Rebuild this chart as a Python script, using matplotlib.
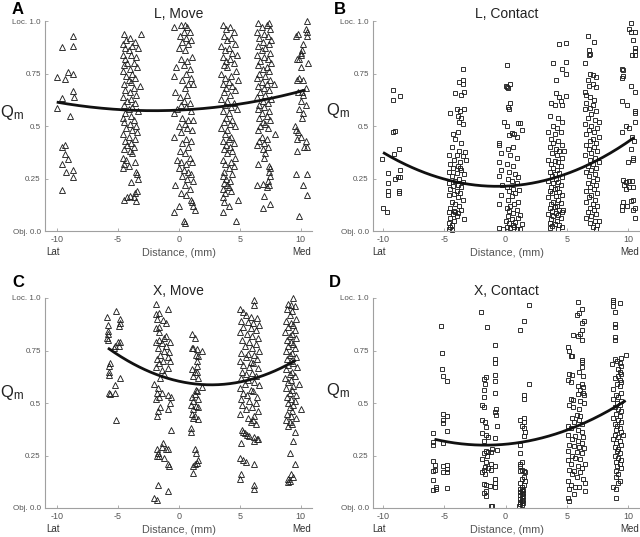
import numpy as np
import matplotlib
matplotlib.use("Agg")
import matplotlib.pyplot as plt

plt.rcParams['font.family'] = ['Liberation Sans', 'DejaVu Sans']
plt.rcParams['axes.unicode_minus'] = False

# ---------------- data ----------------
titles = ["L, Move", "L, Contact", "X, Move", "X, Contact"]
letters = ["A", "B", "C", "D"]
x_ticks = [-10, -5, 0, 5, 10]
x_tick_labels = ["-10", "-5", "0", "5", "10"]
y_ticks = [0.0, 0.25, 0.5, 0.75, 1.0]
y_tick_labels = ["Obj. 0.0", "0.25", "0.5", "0.75", "Loc. 1.0"]

A_pts = [
 (-10.0,0.735),(-9.6,0.876),(-8.7,0.93),(-8.7,0.88),(-9.1,0.757),(-9.3,0.726),(-8.7,0.75),(-9.6,0.634),(-10,0.588),
 (-8.7,0.667),(-8.6,0.64),(-8.9,0.547),(-9.6,0.40),(-9.3,0.41),(-9.3,0.366),(-9.1,0.345),(-9.6,0.32),(-9.2,0.28),
 (-8.7,0.29),(-8.7,0.258),(-9.6,0.195),
 (-4.5,0.94),(-3.1,0.94),(-4.3,0.91),(-4.0,0.92),(-3.6,0.90),(-4.6,0.89),(-3.8,0.88),(-4.4,0.87),(-3.3,0.87),(-4.1,0.86),
 (-4.6,0.84),(-3.9,0.84),(-3.5,0.83),(-4.4,0.82),(-4.2,0.80),(-3.7,0.80),(-4.5,0.79),(-3.4,0.78),(-4.0,0.77),(-4.6,0.76),
 (-3.8,0.75),(-4.3,0.74),(-3.6,0.73),(-4.1,0.72),(-3.9,0.71),(-4.5,0.70),(-3.2,0.69),(-3.7,0.68),(-4.4,0.67),(-4.0,0.66),
 (-3.5,0.65),(-4.6,0.64),(-3.9,0.63),(-4.2,0.62),(-3.6,0.61),(-4.5,0.60),(-3.8,0.59),(-4.1,0.58),(-3.3,0.57),(-4.4,0.56),
 (-3.9,0.55),(-4.6,0.54),(-3.7,0.53),(-4.5,0.52),(-4.0,0.51),(-3.5,0.50),(-4.3,0.49),(-3.8,0.48),(-3.4,0.47),(-4.6,0.46),
 (-4.1,0.45),(-3.6,0.44),(-4.4,0.43),(-3.9,0.42),(-4.2,0.41),(-3.7,0.40),(-4.5,0.39),(-4.0,0.38),(-3.8,0.37),(-4.6,0.35),
 (-4.3,0.34),(-3.6,0.33),(-4.5,0.32),(-4.1,0.31),(-4.6,0.30),(-3.5,0.28),(-3.4,0.27),(-3.3,0.25),(-3.9,0.235),(-4.0,0.165),
 (-3.6,0.18),(-4.5,0.15),(-3.5,0.145),(-3.7,0.16),(-4.2,0.16),(-3.4,0.19),
 (0.2,0.98),(0.5,0.98),(0.7,0.97),(-0.4,0.97),(0.4,0.95),(0.9,0.95),(0.1,0.93),(0.6,0.92),(1.0,0.91),(0.3,0.90),(0.8,0.89),
 (0.0,0.87),(0.5,0.86),(1.1,0.83),(0.2,0.82),(0.7,0.81),(0.4,0.79),(-0.2,0.78),(0.9,0.77),(0.6,0.75),(-0.4,0.74),(1.0,0.73),
 (0.3,0.72),(0.8,0.70),(1.2,0.70),(0.5,0.68),(-0.3,0.66),(0.7,0.65),(0.1,0.64),(0.4,0.62),(0.9,0.61),(0.2,0.60),(0.6,0.59),
 (-0.1,0.58),(1.0,0.57),(-0.4,0.56),(0.3,0.54),(0.8,0.53),(1.2,0.53),(0.5,0.51),(0.0,0.50),(0.7,0.49),(1.1,0.48),(0.2,0.47),
 (-0.4,0.45),(0.6,0.44),(1.0,0.43),(0.3,0.42),(0.8,0.40),(0.1,0.38),(0.5,0.37),(-0.1,0.34),(0.9,0.35),(0.2,0.33),(0.6,0.32),
 (1.1,0.33),(0.0,0.30),(0.4,0.29),(0.8,0.28),(1.0,0.27),(0.3,0.26),(0.7,0.25),(1.2,0.24),(-0.3,0.22),(0.5,0.22),(0.9,0.20),
 (0.2,0.18),(0.6,0.17),(1.0,0.15),(1.1,0.14),(0.0,0.12),(1.2,0.12),(1.3,0.10),(-0.4,0.09),(0.4,0.05),(0.5,0.04),
 (3.6,0.98),(4.2,0.97),(3.9,0.96),(4.5,0.95),(3.7,0.93),(4.3,0.92),(4.0,0.91),(4.6,0.89),(3.5,0.88),(4.1,0.87),(3.8,0.86),
 (4.4,0.85),(4.8,0.84),(3.6,0.83),(4.2,0.82),(3.9,0.81),(4.5,0.80),(3.7,0.79),(4.0,0.78),(4.7,0.76),(3.5,0.75),(4.3,0.74),
 (3.8,0.73),(4.9,0.72),(4.1,0.71),(3.6,0.70),(4.4,0.69),(3.9,0.68),(4.6,0.67),(3.7,0.66),(4.2,0.65),(3.5,0.63),(4.0,0.62),
 (4.5,0.61),(3.8,0.60),(4.3,0.59),(4.8,0.58),(3.6,0.57),(4.1,0.56),(3.9,0.54),(4.4,0.53),(3.7,0.52),(4.2,0.51),(4.6,0.50),
 (3.5,0.49),(4.0,0.48),(3.8,0.46),(4.3,0.45),(4.1,0.44),(3.6,0.43),(4.5,0.42),(3.9,0.41),(4.2,0.40),(3.7,0.39),(4.4,0.38),
 (4.0,0.37),(4.6,0.35),(3.6,0.34),(4.3,0.33),(3.8,0.32),(4.5,0.31),(4.1,0.30),(3.7,0.28),(4.4,0.27),(3.6,0.26),(3.9,0.25),
 (4.2,0.24),(3.7,0.23),(4.0,0.22),(4.1,0.21),(3.6,0.20),(4.3,0.19),(3.8,0.18),(3.6,0.16),(4.9,0.15),(3.7,0.14),(4.1,0.12),
 (3.6,0.09),(4.7,0.05),
 (6.5,0.99),(7.2,0.98),(7.4,0.99),(6.8,0.97),(7.5,0.96),(6.4,0.95),(7.0,0.94),(7.3,0.93),(6.6,0.92),(7.6,0.91),(6.9,0.90),
 (7.4,0.89),(6.5,0.88),(7.1,0.87),(6.8,0.86),(7.5,0.85),(6.4,0.84),(7.0,0.83),(7.3,0.82),(6.7,0.81),(7.6,0.80),(6.5,0.79),
 (7.2,0.78),(6.9,0.77),(7.4,0.76),(6.6,0.75),(7.1,0.74),(6.4,0.73),(7.5,0.72),(6.8,0.71),(7.2,0.70),(7.8,0.70),(6.5,0.69),
 (7.0,0.68),(7.4,0.67),(6.7,0.66),(7.1,0.65),(6.4,0.64),(7.6,0.63),(6.9,0.62),(7.3,0.61),(6.6,0.60),(7.0,0.59),(6.5,0.58),
 (7.4,0.57),(6.8,0.56),(7.2,0.55),(6.6,0.54),(7.5,0.53),(6.9,0.52),(7.1,0.51),(6.7,0.50),(7.3,0.49),(6.5,0.48),(7.9,0.46),
 (6.8,0.45),(7.2,0.44),(6.6,0.43),(7.0,0.42),(6.4,0.41),(7.3,0.40),(6.9,0.39),(7.1,0.37),(7.0,0.35),(6.5,0.32),(7.4,0.31),
 (7.5,0.30),(7.4,0.28),(7.5,0.26),(7.3,0.24),(6.4,0.22),(6.9,0.225),(7.4,0.22),(7.2,0.21),(7.0,0.165),(7.5,0.13),(6.9,0.11),
 (10.5,1.0),(10.4,0.96),(10.5,0.95),(10.5,0.93),(9.6,0.93),(9.8,0.94),(10.2,0.89),(10.1,0.86),(10.0,0.84),(9.9,0.82),
 (9.7,0.82),(10.0,0.85),(10.6,0.80),(10.0,0.78),(9.7,0.72),(9.9,0.73),(10.2,0.72),(10.4,0.68),(10.1,0.66),(9.8,0.66),
 (10.2,0.65),(10.0,0.62),(10.4,0.60),(9.9,0.58),(10.2,0.56),(10.1,0.54),(9.5,0.50),(9.6,0.48),(9.8,0.47),(10.0,0.45),
 (9.7,0.44),(10.4,0.43),(10.3,0.40),(10.5,0.40),(9.7,0.38),(10.5,0.27),(9.6,0.27),(10.2,0.22),(10.5,0.17),(9.9,0.07),
]

B_pts = [
 (-9.2,0.67),(-9.2,0.625),(-8.6,0.645),(-9.2,0.47),(-9.0,0.475),(-8.7,0.39),(-9.1,0.365),(-10.1,0.345),(-9.6,0.275),
 (-8.6,0.29),(-8.8,0.255),(-8.6,0.255),(-9.0,0.25),(-9.6,0.23),(-9.6,0.19),(-9.6,0.17),(-8.7,0.18),(-8.7,0.19),
 (-10.0,0.11),(-9.7,0.09),
 (-3.5,0.77),(-3.5,0.72),(-3.8,0.71),(-3.5,0.70),(-4.1,0.655),(-3.6,0.65),(-3.4,0.66),(-4.0,0.58),(-3.7,0.57),(-3.4,0.58),
 (-4.5,0.56),(-3.9,0.55),(-3.6,0.54),(-3.8,0.52),(-3.5,0.51),(-4.3,0.46),(-3.9,0.47),(-4.1,0.44),(-3.6,0.42),(-4.4,0.40),
 (-3.8,0.38),(-3.3,0.375),(-4.6,0.36),(-4.0,0.36),(-3.5,0.355),(-4.2,0.34),(-3.2,0.34),(-3.7,0.33),(-4.5,0.32),(-3.9,0.31),
 (-4.3,0.30),(-3.6,0.29),(-4.6,0.28),(-4.0,0.275),(-3.4,0.27),(-4.4,0.26),(-3.8,0.25),(-4.1,0.24),(-3.5,0.235),(-4.6,0.23),
 (-3.9,0.22),(-4.3,0.215),(-3.6,0.21),(-4.5,0.20),(-4.0,0.19),(-3.7,0.18),(-4.2,0.175),(-4.6,0.17),(-3.9,0.16),(-3.5,0.15),
 (-4.4,0.14),(-4.1,0.13),(-3.8,0.12),(-4.5,0.11),(-3.6,0.10),(-4.2,0.095),(-4.6,0.09),(-3.9,0.085),(-4.3,0.08),(-4.0,0.07),
 (-4.5,0.06),(-3.4,0.055),(-4.2,0.05),(-4.6,0.04),(-4.4,0.03),(-4.5,0.02),(-4.6,0.01),(-4.4,0.005),(-4.1,0.09),(-3.7,0.30),
 (0.1,0.79),(0.0,0.69),(0.1,0.685),(0.4,0.70),(0.2,0.68),(0.4,0.61),(0.2,0.59),(0.3,0.58),(-0.1,0.52),(1.0,0.515),
 (1.2,0.515),(0.1,0.50),(1.3,0.48),(0.5,0.465),(0.7,0.46),(0.3,0.455),(0.9,0.45),(-0.5,0.42),(-0.5,0.41),(0.6,0.40),
 (0.2,0.39),(-0.4,0.37),(0.4,0.36),(0.9,0.35),(-0.5,0.33),(0.1,0.32),(0.6,0.31),(-0.4,0.29),(0.3,0.28),(0.8,0.27),
 (-0.5,0.26),(1.0,0.255),(0.2,0.25),(0.5,0.24),(0.9,0.23),(-0.3,0.22),(0.1,0.21),(0.6,0.20),(1.1,0.195),(0.3,0.19),
 (0.8,0.18),(-0.4,0.17),(0.5,0.165),(0.2,0.15),(1.0,0.14),(0.7,0.13),(-0.5,0.13),(0.4,0.12),(0.1,0.11),(0.9,0.10),
 (0.3,0.095),(0.6,0.085),(1.2,0.075),(0.2,0.07),(1.0,0.06),(0.5,0.055),(0.0,0.05),(0.8,0.045),(0.3,0.04),(1.3,0.035),
 (0.6,0.03),(-0.5,0.015),(0.1,0.02),(0.4,0.015),(0.9,0.01),(1.2,0.01),(0.7,0.02),(-0.2,0.01),
 (4.4,0.89),(4.9,0.895),(3.9,0.80),(4.9,0.805),(4.6,0.77),(4.9,0.75),(4.1,0.72),(4.1,0.655),(4.4,0.64),(4.5,0.62),
 (3.7,0.61),(4.0,0.60),(4.6,0.60),(4.9,0.645),(3.6,0.55),(4.3,0.54),(4.6,0.52),(3.9,0.50),(4.2,0.49),(3.5,0.47),
 (4.5,0.47),(4.0,0.46),(3.7,0.44),(4.3,0.43),(3.9,0.42),(4.6,0.41),(3.6,0.40),(4.1,0.39),(4.4,0.38),(3.8,0.37),
 (4.2,0.36),(4.6,0.35),(3.5,0.34),(4.0,0.335),(4.3,0.33),(3.7,0.32),(4.5,0.31),(3.9,0.30),(4.2,0.29),(3.6,0.28),
 (4.4,0.275),(4.0,0.27),(3.8,0.26),(4.6,0.255),(4.1,0.25),(3.5,0.24),(4.3,0.235),(3.9,0.23),(4.5,0.22),(3.7,0.21),
 (4.2,0.205),(4.0,0.20),(3.6,0.19),(4.4,0.185),(3.8,0.18),(4.6,0.17),(4.1,0.165),(3.5,0.16),(4.3,0.15),(3.9,0.14),
 (4.5,0.135),(3.7,0.13),(4.2,0.12),(4.0,0.115),(3.6,0.11),(4.4,0.10),(3.8,0.095),(4.6,0.09),(4.1,0.085),(3.5,0.08),
 (4.3,0.075),(3.9,0.07),(4.5,0.06),(3.7,0.055),(4.2,0.05),(3.6,0.04),(4.0,0.035),(4.4,0.03),(3.8,0.025),(4.6,0.02),
 (3.6,0.015),(4.3,0.01),(4.7,0.1),(4.8,0.38),
 (6.7,0.93),(7.2,0.90),(6.8,0.86),(6.8,0.84),(6.9,0.845),(6.5,0.80),(6.9,0.75),(7.1,0.745),(7.4,0.735),(6.7,0.72),
 (7.1,0.70),(6.8,0.69),(7.4,0.685),(6.5,0.66),(6.6,0.65),(6.9,0.64),(7.2,0.625),(6.6,0.61),(7.1,0.60),(6.9,0.585),
 (6.5,0.58),(7.4,0.57),(7.0,0.555),(6.7,0.54),(7.3,0.53),(7.6,0.52),(6.5,0.51),(7.0,0.50),(7.5,0.49),(6.8,0.48),
 (7.2,0.47),(6.6,0.46),(7.6,0.45),(7.1,0.44),(6.9,0.43),(7.4,0.42),(6.6,0.41),(7.2,0.40),(6.8,0.39),(7.5,0.38),
 (7.0,0.37),(6.5,0.36),(7.3,0.35),(6.9,0.34),(7.6,0.33),(7.1,0.32),(6.7,0.31),(7.4,0.30),(7.0,0.29),(6.6,0.28),
 (7.3,0.27),(6.8,0.26),(7.5,0.25),(7.1,0.24),(6.7,0.23),(7.4,0.22),(6.9,0.21),(7.2,0.20),(6.6,0.19),(7.5,0.18),
 (7.0,0.17),(6.8,0.16),(7.3,0.15),(6.6,0.14),(7.1,0.13),(7.5,0.12),(6.9,0.11),(7.2,0.10),(6.7,0.09),(7.4,0.08),
 (7.0,0.07),(6.6,0.06),(7.3,0.05),(6.9,0.04),(7.5,0.03),(7.1,0.02),(7.4,0.01),(7.6,0.05),
 (10.2,0.99),(10.1,0.96),(10.2,0.95),(10.6,0.95),(10.4,0.91),(10.6,0.87),(10.6,0.855),(10.3,0.84),(10.6,0.84),(9.5,0.77),
 (9.6,0.765),(9.6,0.74),(9.5,0.73),(10.2,0.69),(10.6,0.66),(9.5,0.62),(9.9,0.60),(10.6,0.57),(10.6,0.56),(10.6,0.52),
 (9.8,0.50),(10.1,0.49),(9.5,0.47),(10.3,0.45),(10.5,0.43),(10.2,0.39),(10.4,0.35),(10.4,0.34),(10.0,0.33),(9.6,0.245),
 (9.8,0.235),(10.1,0.24),(10.3,0.24),(9.7,0.22),(10.1,0.21),(10.4,0.21),(9.8,0.20),(9.6,0.14),(10.2,0.145),(10.4,0.15),
 (9.5,0.12),(9.9,0.12),(10.6,0.11),(9.5,0.10),(10.4,0.10),(10.6,0.06),
]

C_pts = [
 (-5.9,0.91),(-5.1,0.94),(-4.8,0.90),(-4.8,0.88),(-4.9,0.865),(-5.8,0.87),(-5.8,0.845),(-5.8,0.83),(-5.9,0.81),(-5.8,0.80),
 (-5.0,0.79),(-4.8,0.79),(-5.2,0.77),(-4.9,0.77),(-5.3,0.76),(-5.6,0.69),(-5.7,0.675),(-5.7,0.65),(-5.7,0.635),(-4.8,0.62),
 (-5.2,0.585),(-5.7,0.55),(-5.6,0.545),(-5.2,0.55),(-5.1,0.42),
 (-1.9,0.97),(-0.9,0.95),(-1.6,0.93),(-1.9,0.925),(-1.8,0.90),(-1.3,0.895),(-1.0,0.88),(-1.6,0.86),(-1.9,0.855),(-1.6,0.84),
 (-1.0,0.82),(-1.2,0.81),(-1.6,0.80),(-1.9,0.79),(-0.7,0.79),(-1.4,0.785),(-1.0,0.77),(-1.7,0.76),(-1.2,0.75),(-0.8,0.745),
 (-1.5,0.73),(-0.9,0.72),(-1.8,0.71),(-1.3,0.70),(-0.7,0.70),(-1.6,0.69),(-1.9,0.67),(-0.9,0.665),(-1.4,0.655),(-1.2,0.64),
 (-1.5,0.62),(-2.0,0.59),(-1.7,0.57),(-1.4,0.55),(-1.8,0.55),(-0.9,0.54),(-1.6,0.53),(-0.6,0.53),(-1.9,0.52),(-0.7,0.50),
 (-1.7,0.46),(-1.5,0.48),(-0.9,0.47),(-1.8,0.44),(-0.6,0.37),(-1.3,0.31),(-1.4,0.29),(-1.8,0.28),(-0.9,0.28),(-1.0,0.28),
 (-1.7,0.26),(-1.8,0.25),(-1.6,0.25),(-1.2,0.24),(-0.9,0.21),(-0.8,0.20),(-1.7,0.11),(-0.9,0.08),(-2.0,0.05),(-1.8,0.04),
 (1.1,0.83),(1.3,0.81),(1.1,0.76),(1.2,0.76),(1.5,0.755),(1.9,0.75),(1.4,0.73),(1.6,0.725),(1.5,0.70),(1.5,0.675),
 (1.1,0.66),(1.3,0.65),(1.5,0.65),(1.2,0.63),(1.6,0.62),(1.9,0.575),(1.4,0.56),(1.5,0.555),(1.3,0.545),(1.1,0.53),
 (1.6,0.52),(1.2,0.51),(1.0,0.49),(1.4,0.485),(1.6,0.48),(1.2,0.47),(1.1,0.45),(1.3,0.44),(1.2,0.43),(1.6,0.425),
 (1.0,0.38),(1.0,0.36),(1.3,0.28),(1.4,0.26),(1.6,0.23),(1.5,0.215),(1.3,0.21),(1.2,0.20),(1.2,0.165),
 (5.0,0.95),(6.2,0.99),(6.2,0.965),(5.3,0.935),(5.5,0.92),(5.9,0.91),(6.4,0.905),(5.1,0.89),(5.7,0.885),(6.1,0.88),
 (6.6,0.87),(5.3,0.86),(5.9,0.855),(6.3,0.85),(5.0,0.84),(5.6,0.83),(6.0,0.82),(6.5,0.81),(5.2,0.80),(5.8,0.79),
 (6.3,0.78),(5.4,0.77),(6.0,0.76),(6.6,0.75),(5.1,0.74),(5.7,0.735),(6.2,0.73),(5.5,0.72),(6.4,0.71),(5.0,0.70),
 (5.9,0.695),(6.1,0.69),(5.3,0.68),(5.8,0.67),(6.5,0.665),(5.2,0.65),(6.0,0.645),(5.5,0.64),(6.3,0.63),(5.1,0.62),
 (5.7,0.61),(6.2,0.60),(5.4,0.59),(6.6,0.585),(5.0,0.57),(5.9,0.56),(6.1,0.555),(5.3,0.55),(5.6,0.54),(6.4,0.53),
 (5.1,0.52),(5.8,0.51),(6.3,0.50),(5.2,0.49),(6.0,0.48),(5.5,0.47),(6.5,0.46),(5.0,0.45),(6.2,0.44),(5.7,0.43),
 (6.1,0.42),(5.9,0.41),(6.3,0.40),(5.2,0.37),(5.3,0.36),(5.4,0.355),(5.6,0.35),(5.8,0.345),(6.2,0.34),(6.4,0.33),
 (6.5,0.33),(6.2,0.32),(5.1,0.31),(5.0,0.24),(5.3,0.23),(5.5,0.22),(6.2,0.21),(5.1,0.16),(5.0,0.14),(6.2,0.11),(6.2,0.09),
 (9.4,1.0),(9.0,0.97),(9.2,0.965),(9.5,0.96),(8.9,0.95),(9.3,0.94),(9.1,0.92),(9.6,0.90),(8.8,0.89),(9.2,0.88),
 (9.4,0.87),(9.0,0.86),(9.5,0.85),(8.7,0.84),(9.3,0.83),(9.1,0.82),(9.6,0.81),(8.9,0.80),(9.2,0.79),(9.4,0.78),
 (9.0,0.77),(9.5,0.76),(8.8,0.75),(9.3,0.74),(9.1,0.73),(9.6,0.72),(8.9,0.71),(9.2,0.70),(9.4,0.69),(9.0,0.68),
 (9.7,0.67),(8.8,0.66),(9.3,0.65),(9.1,0.64),(9.5,0.63),(8.7,0.62),(9.2,0.61),(9.9,0.59),(9.0,0.60),(9.4,0.58),
 (8.8,0.57),(9.3,0.56),(9.1,0.55),(9.6,0.54),(8.9,0.53),(9.2,0.52),(9.5,0.51),(9.0,0.50),(9.4,0.49),(9.1,0.48),
 (10.0,0.47),(9.3,0.46),(8.9,0.45),(9.2,0.44),(9.6,0.43),(8.8,0.42),(9.1,0.41),(9.3,0.40),(9.0,0.39),(9.5,0.36),
 (9.4,0.32),(9.1,0.26),(9.5,0.21),(9.2,0.16),(9.4,0.15),(9.0,0.14),(9.1,0.13),(9.0,0.125),
]

D_pts = [
 (-5.3,0.865),(-5.2,0.74),(-5.2,0.66),(-5.1,0.63),(-4.8,0.605),(-5.1,0.45),(-4.8,0.44),(-5.1,0.42),(-5.1,0.405),(-4.8,0.365),
 (-5.9,0.355),(-5.9,0.315),(-5.9,0.30),(-5.1,0.31),(-5.9,0.225),(-5.8,0.205),(-5.8,0.18),(-5.9,0.175),(-4.8,0.205),
 (-4.8,0.185),(-4.8,0.17),(-5.1,0.20),(-5.1,0.17),(-5.9,0.135),(-5.9,0.085),(-5.7,0.10),(-5.7,0.09),(-4.8,0.095),
 (-2.0,0.935),(-1.5,0.86),(-0.9,0.775),(-0.9,0.71),(-0.9,0.69),(-1.6,0.625),(-1.8,0.615),(-0.9,0.635),(-0.9,0.605),
 (-1.7,0.59),(-1.8,0.56),(-0.9,0.55),(-1.8,0.53),(-1.9,0.49),(-1.8,0.48),(-0.8,0.47),(-0.9,0.455),(-0.8,0.445),(-1.9,0.42),
 (-1.7,0.41),(-1.6,0.385),(-0.7,0.39),(-1.9,0.355),(-1.6,0.35),(-1.4,0.34),(-0.9,0.335),(-1.8,0.32),(-1.1,0.28),(-0.7,0.275),
 (-1.6,0.27),(-1.4,0.265),(-1.2,0.265),(-1.8,0.26),(-1.5,0.25),(-1.9,0.235),(-1.6,0.22),(-1.2,0.21),(-1.7,0.195),(-1.4,0.19),
 (-0.9,0.20),(-1.8,0.18),(-1.2,0.18),(-1.9,0.17),(-1.7,0.16),(-0.9,0.14),(-0.9,0.12),(-1.8,0.115),(-1.6,0.11),(-1.3,0.105),
 (-0.9,0.10),(-1.6,0.08),(-1.8,0.07),(-1.6,0.055),(-1.2,0.01),(-1.1,0.01),
 (1.9,0.965),(1.5,0.89),(1.2,0.85),(1.9,0.59),(1.5,0.54),(1.5,0.52),(1.2,0.42),(1.5,0.43),(1.5,0.41),(1.3,0.39),(1.5,0.38),
 (1.6,0.36),(1.5,0.345),(1.2,0.30),(1.2,0.26),(1.3,0.22),(1.2,0.21),(1.2,0.20),(1.3,0.18),(1.2,0.175),(1.5,0.175),(1.6,0.17),
 (1.5,0.15),(1.3,0.14),(1.6,0.13),(1.2,0.12),(1.5,0.11),(1.3,0.10),(1.2,0.09),(1.4,0.085),(1.3,0.08),(1.2,0.075),(1.4,0.07),
 (1.3,0.065),(1.2,0.06),(1.4,0.055),(1.3,0.05),(1.2,0.045),(1.4,0.04),(1.3,0.035),(1.2,0.03),(1.4,0.025),(1.2,0.02),
 (1.3,0.015),(1.1,0.01),
 (5.9,0.98),(6.2,0.95),(6.0,0.93),(5.8,0.92),(6.4,0.89),(6.2,0.88),(6.2,0.85),(6.1,0.83),(5.9,0.82),(5.5,0.825),(6.2,0.80),
 (5.1,0.765),(5.2,0.75),(5.3,0.725),(5.4,0.725),(6.2,0.705),(6.2,0.695),(6.2,0.67),(6.0,0.65),(5.2,0.64),(5.4,0.635),
 (6.3,0.63),(5.1,0.61),(5.3,0.60),(6.2,0.59),(5.9,0.58),(6.3,0.575),(6.1,0.56),(6.3,0.55),(5.9,0.545),(6.4,0.54),(5.3,0.52),
 (5.5,0.515),(6.1,0.51),(6.4,0.50),(5.2,0.49),(5.5,0.48),(6.0,0.47),(5.8,0.445),(6.1,0.44),(5.4,0.43),(6.0,0.42),(5.6,0.41),
 (6.2,0.40),(5.1,0.39),(5.3,0.38),(5.9,0.37),(6.2,0.36),(5.1,0.35),(5.7,0.345),(6.3,0.34),(5.4,0.33),(5.9,0.32),(6.2,0.31),
 (5.2,0.30),(5.6,0.295),(6.0,0.29),(6.4,0.285),(5.1,0.27),(5.8,0.265),(6.2,0.26),(5.4,0.25),(5.7,0.24),(6.1,0.235),
 (5.1,0.23),(6.5,0.21),(5.3,0.21),(5.9,0.20),(6.2,0.19),(5.2,0.18),(5.6,0.175),(6.1,0.17),(5.4,0.16),(5.8,0.15),(6.3,0.14),
 (5.1,0.13),(6.5,0.12),(5.3,0.11),(6.0,0.10),(5.7,0.10),(5.2,0.09),(6.5,0.08),(5.6,0.065),(5.1,0.05),(5.2,0.035),
 (8.8,0.99),(8.8,0.98),(8.8,0.96),(9.3,0.975),(8.9,0.935),(8.9,0.875),(8.9,0.86),(8.9,0.815),(8.9,0.80),(9.8,0.73),
 (9.4,0.715),(8.9,0.71),(9.1,0.70),(9.3,0.69),(8.7,0.685),(9.4,0.675),(9.2,0.66),(9.3,0.65),(9.4,0.64),(9.2,0.63),
 (8.9,0.62),(9.3,0.61),(9.4,0.60),(9.1,0.59),(9.3,0.58),(8.8,0.565),(9.4,0.55),(9.0,0.54),(9.2,0.53),(8.8,0.52),
 (9.4,0.51),(9.1,0.50),(9.3,0.49),(8.9,0.48),(9.2,0.47),(9.4,0.46),(9.0,0.45),(9.3,0.44),(8.8,0.43),(9.2,0.42),
 (9.4,0.41),(8.9,0.40),(9.1,0.39),(9.3,0.38),(9.0,0.37),(9.4,0.36),(8.9,0.35),(9.6,0.35),(9.2,0.34),(8.8,0.33),
 (9.3,0.32),(9.0,0.31),(9.4,0.30),(8.9,0.29),(9.2,0.28),(9.1,0.27),(9.3,0.26),(8.9,0.25),(9.2,0.24),(9.4,0.23),
 (9.0,0.22),(9.3,0.21),(9.1,0.20),(9.4,0.19),(9.0,0.175),(9.2,0.16),(9.0,0.15),(9.3,0.13),(9.2,0.12),(8.8,0.10),
 (9.0,0.09),(9.0,0.05),
]

# quadratic fit curves: values at a few x positions
A_curve_x = [-10, -5, 0, 5, 10.4]
A_curve_y = [0.612, 0.582, 0.575, 0.602, 0.673]
B_curve_x = [-10, -5, 0, 5, 10.5]
B_curve_y = [0.372, 0.25, 0.217, 0.266, 0.448]
C_curve_x = [-5.8, 0, 2.5, 5, 9.6]
C_curve_y = [0.76, 0.611, 0.584, 0.595, 0.706]
D_curve_x = [-5.8, -2, 0, 5, 9.8]
D_curve_y = [0.33, 0.30, 0.294, 0.381, 0.508]

panels = [
    dict(pts=A_pts, cx=A_curve_x, cy=A_curve_y, marker='^', ms=4.6, xlim=(-10.96, 10.93)),
    dict(pts=B_pts, cx=B_curve_x, cy=B_curve_y, marker='s', ms=3.3, xlim=(-10.82, 10.97)),
    dict(pts=C_pts, cx=C_curve_x, cy=C_curve_y, marker='^', ms=4.6, xlim=(-10.96, 10.93)),
    dict(pts=D_pts, cx=D_curve_x, cy=D_curve_y, marker='s', ms=3.3, xlim=(-10.82, 10.97)),
]

# ---------------- layout ----------------
W, H = 640, 537
fig = plt.figure(figsize=(W / 100, H / 100), dpi=100)
ax_rects_px = [(45, 21, 312, 231), (373, 21, 640, 231), (45, 298, 312, 508), (373, 298, 640, 508)]
letter_pos_px = [(12, 2), (334, 2), (12, 275), (329, 275)]
q_pos_px = [(0, 112), (326, 110), (0, 393), (326, 390)]

spine_grey = '#a0a0a0'
tgrey = '#555555'

for i, p in enumerate(panels):
    l, t, r, b = ax_rects_px[i]
    ax = fig.add_axes([l / W, 1 - b / H, (r - l) / W, (b - t) / H])
    xs = [q[0] for q in p['pts']]
    ys = [q[1] for q in p['pts']]
    ax.plot(xs, ys, linestyle='none', marker=p['marker'], ms=p['ms'], mfc='none',
            mec='#222222', mew=0.65, clip_on=False, zorder=2)
    coef = np.polyfit(p['cx'], p['cy'], 2)
    xx = np.linspace(min(p['cx']), max(p['cx']), 200)
    ax.plot(xx, np.polyval(coef, xx), color='#111111', lw=2.0, zorder=3, solid_capstyle='butt')

    ax.set_xlim(*p['xlim'])
    ax.set_ylim(0, 1)
    ax.set_xticks(x_ticks)
    ax.set_xticklabels(x_tick_labels, fontsize=6.5, color=tgrey)
    ax.set_yticks(y_ticks)
    ax.set_yticklabels(y_tick_labels, fontsize=5.8, color=tgrey)
    ax.tick_params(axis='both', direction='in', length=2.5, width=0.6, color=spine_grey, pad=3)
    for s in ['top', 'right']:
        ax.spines[s].set_visible(False)
    for s in ['left', 'bottom']:
        ax.spines[s].set_color(spine_grey)
        ax.spines[s].set_linewidth(0.8)
    trans = ax.get_xaxis_transform()
    ax.text(-10.3, -0.1, 'Lat', transform=trans, ha='center', va='center', fontsize=7, color='#333333')
    ax.text(10.1, -0.1, 'Med', transform=trans, ha='center', va='center', fontsize=7, color='#333333')
    ax.set_xlabel('Distance, (mm)', fontsize=7.8, color=tgrey)
    ax.xaxis.set_label_coords(0.5, -0.08)
    ax.set_title(titles[i], fontsize=10, pad=2.5, color='#222222')

    lx, ly = letter_pos_px[i]
    fig.text(lx / W, 1 - ly / H, letters[i], fontsize=12, fontweight='bold', va='top', ha='left')
    qx, qy = q_pos_px[i]
    fig.text(qx / W, 1 - qy / H, r'$\mathregular{Q_m}$', fontsize=12, va='center', ha='left', color='#222222')

fig.savefig('out.png', dpi=100)
